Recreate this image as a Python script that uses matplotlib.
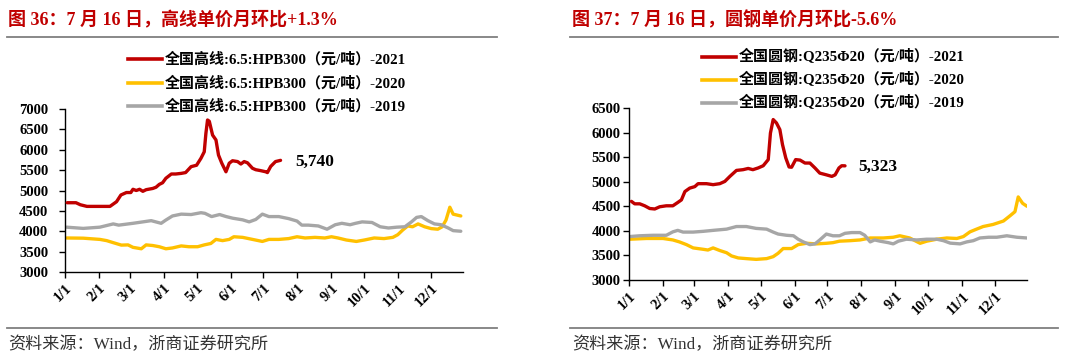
import matplotlib
matplotlib.use("Agg")
import matplotlib.pyplot as plt
from matplotlib.lines import Line2D

W, H = 1080, 359

# month starts (day of year) and labels
month_days = [0, 31, 59, 90, 120, 151, 181, 212, 243, 273, 304, 334]
month_labels = ["1/1", "2/1", "3/1", "4/1", "5/1", "6/1", "7/1", "8/1", "9/1", "10/1", "11/1", "12/1"]

# ---- 高线 HPB300 ----
gx_days_2021 = [2, 10, 14, 20, 30, 41, 47, 51, 56, 60, 62, 65, 68, 71, 74, 80, 83, 86, 89, 92,
                97, 101, 106, 110, 115, 120, 124, 127, 128.5, 130, 131.6, 134.6, 137.7, 140, 143,
                146.8, 149.8, 152.8, 157.4, 160.4, 163.4, 166.4, 171, 174, 178, 183, 184.6, 187.6, 192, 196.6]
gx_2021 = [4700, 4700, 4650, 4610, 4610, 4610, 4725, 4890, 4950, 4950, 5030, 5000, 5030, 4980, 5020,
           5050, 5080, 5150, 5190, 5300, 5405, 5405, 5420, 5440, 5585, 5620, 5790, 5950, 6400, 6730,
           6700, 6360, 6240, 5870, 5670, 5460, 5670, 5730, 5710, 5650, 5710, 5680, 5545, 5510, 5490,
           5460, 5440, 5590, 5710, 5740]

gx_days_2020 = [1.5, 16.6, 31.8, 38, 44, 51.4, 57.5, 62, 69.6, 74, 80, 86, 92, 98, 106, 113, 121, 127,
                133, 137.7, 143.7, 149.8, 154, 162, 171, 180, 186, 195, 204, 211.6, 219, 228, 237, 243,
                249, 256.6, 265.7, 273, 282, 291, 299, 303.5, 308, 312.6, 317, 322, 328, 334, 340, 344,
                347.5, 351, 354, 361]
gx_2020 = [3835, 3830, 3800, 3770, 3720, 3660, 3665, 3605, 3570, 3665, 3650, 3620, 3570, 3590, 3640,
           3620, 3620, 3665, 3700, 3800, 3770, 3800, 3865, 3850, 3800, 3750, 3800, 3800, 3820, 3865,
           3835, 3850, 3835, 3865, 3835, 3785, 3750, 3785, 3835, 3820, 3850, 3915, 4030, 4130, 4110,
           4180, 4110, 4065, 4050, 4110, 4275, 4590, 4420, 4375]

gx_days_2019 = [1.5, 16.6, 31.8, 44, 49, 62, 71, 78.6, 87.7, 92, 98, 106, 115, 124, 127.6, 133.7, 141,
                147, 153, 162, 168, 174, 180, 186, 195, 204, 211.6, 216, 222, 231, 239, 246.5, 252.5,
                260, 265, 271, 280, 287.5, 295, 302.6, 310, 316, 320.7, 325, 331, 337, 343, 349.5, 354, 361]
gx_2019 = [4100, 4070, 4100, 4180, 4150, 4195, 4230, 4260, 4195, 4275, 4375, 4420, 4410, 4455, 4440,
           4360, 4410, 4360, 4320, 4280, 4230, 4290, 4420, 4360, 4360, 4310, 4250, 4150, 4150, 4130,
           4050, 4160, 4195, 4160, 4195, 4230, 4215, 4110, 4080, 4100, 4110, 4230, 4340, 4360, 4260,
           4180, 4160, 4080, 4015, 4000]

# ---- 圆钢 Q235Φ20 ----
yg_days_2021 = [2.2, 5.2, 9.8, 14.3, 18.9, 23.5, 28, 34, 40, 44.5, 47.8, 51, 55.4, 60, 63, 70.7, 76.7,
                82.8, 87.4, 92, 98, 104, 108.7, 113, 117.8, 122.4, 127, 129, 131.5, 134.5, 137.6, 140,
                143, 146, 148.3, 152, 156, 160.5, 165, 169.6, 174, 180, 185, 188, 191.5, 194, 197]
yg_2021 = [4600, 4550, 4550, 4510, 4455, 4445, 4490, 4510, 4510, 4578, 4630, 4800, 4870, 4900, 4960,
           4960, 4940, 4960, 5006, 5108, 5230, 5245, 5270, 5245, 5280, 5325, 5450, 5990, 6265, 6195,
           6060, 5755, 5483, 5300, 5295, 5450, 5440, 5380, 5380, 5280, 5175, 5140, 5108, 5140, 5280,
           5325, 5323]

yg_days_2020 = [0.6, 16, 31, 40, 46, 52.4, 58.5, 67.6, 72, 76.7, 82.8, 89, 93.5, 99.6, 107, 116, 125.5,
                131.5, 136, 140.6, 148.3, 154.3, 162, 171, 180, 186, 192, 201.5, 210.7, 220, 232, 241,
                247, 256, 265.5, 271.6, 280.7, 289.9, 299, 305, 311, 317, 323, 332, 341.5, 347.7, 352,
                355, 359, 363]
yg_2020 = [3830, 3845, 3845, 3815, 3775, 3720, 3653, 3625, 3610, 3653, 3600, 3555, 3490, 3449, 3435,
           3420, 3435, 3475, 3544, 3640, 3640, 3720, 3747, 3735, 3747, 3760, 3790, 3800, 3815, 3855,
           3855, 3870, 3900, 3855, 3747, 3790, 3830, 3855, 3845, 3884, 3980, 4035, 4088, 4130, 4200,
           4310, 4390, 4690, 4560, 4500]

yg_days_2019 = [0.6, 9.8, 22, 34, 40, 44.5, 49.3, 58.5, 67.6, 76.7, 89, 98, 107, 116, 125.5, 131.5, 136,
                143.7, 150, 154.3, 159, 165, 169.6, 174, 180, 186, 192, 197, 203, 210.7, 215, 220, 224,
                229, 236.5, 241, 245.7, 253, 262.5, 271.6, 280.7, 286.8, 293, 302, 308, 314, 320, 328,
                335.5, 344.6, 353.8, 363]
yg_2019 = [3884, 3900, 3910, 3910, 3980, 4010, 3975, 3975, 3990, 4010, 4035, 4088, 4088, 4050, 4035,
           3975, 3935, 3910, 3900, 3830, 3775, 3720, 3735, 3815, 3935, 3900, 3900, 3950, 3965, 3965,
           3910, 3775, 3815, 3790, 3760, 3735, 3790, 3830, 3815, 3830, 3830, 3800, 3750, 3735, 3775,
           3800, 3855, 3870, 3870, 3900, 3870, 3855]

gx_labels = ["全国高线:6.5:HPB300（元/吨）-2021", "全国高线:6.5:HPB300（元/吨）-2020",
             "全国高线:6.5:HPB300（元/吨）-2019"]
yg_labels = ["全国圆钢:Q235Φ20（元/吨）-2021", "全国圆钢:Q235Φ20（元/吨）-2020",
             "全国圆钢:Q235Φ20（元/吨）-2019"]

RED, YEL, GRY = "#C00000", "#FFC000", "#A6A6A6"
TITLE_RED = "#C00000"
SERIF = ["Liberation Serif", "Noto Sans CJK SC"]
MIXED = ["Liberation Serif", "Noto Sans CJK SC", "DejaVu Sans"]


def fx(px):
    return px / W


def fy(py):
    return 1 - py / H


fig = plt.figure(figsize=(W / 100, H / 100), dpi=100)
fig.patch.set_facecolor("white")


def panel(rect, series, ylim, yticks, ypad, end_label, end_xy, leg_x, leg_ys, labels,
          title, title_x, line_x0, line_x1, src_x):
    ax = fig.add_axes(rect)
    for d, v, c in series:
        ax.plot(d, v, color=c, lw=2.4, solid_capstyle="round", zorder=3 if c == RED else 2)
    ax.set_xlim(0, 363)
    ax.set_ylim(*ylim)
    ax.set_yticks(yticks)
    ax.set_xticks(month_days)
    ax.set_xticklabels(month_labels, rotation=45, ha="right", rotation_mode="anchor")
    for s in ["top", "right"]:
        ax.spines[s].set_visible(False)
    for s in ["left", "bottom"]:
        ax.spines[s].set_color("#000000")
        ax.spines[s].set_linewidth(1.0)
    ax.tick_params(axis="both", direction="out", length=4, width=1, colors="#000000")
    ax.tick_params(axis="y", pad=ypad)
    ax.tick_params(axis="x", pad=3)
    for lab in ax.get_xticklabels() + ax.get_yticklabels():
        lab.set_fontfamily(SERIF)
        lab.set_fontweight("bold")
        lab.set_fontsize(10.5)
    # end value label
    fig.text(fx(end_xy[0]), fy(end_xy[1]), end_label, fontsize=12.5, fontweight="bold",
             family=SERIF, va="center", ha="left", color="#000000")
    # legend
    for (d, v, c), lab, ly in zip(series, labels, leg_ys):
        fig.add_artist(Line2D([fx(leg_x), fx(leg_x + 34)], [fy(ly), fy(ly)],
                              transform=fig.transFigure, color=c, lw=2.6))
        fig.text(fx(leg_x + 37), fy(ly), lab, fontsize=10.8, fontweight="bold", family=MIXED,
                 va="center", ha="left", color="#000000")
    # title, rules, source
    fig.text(fx(title_x), fy(20), title, fontsize=13, fontweight="bold", family=MIXED,
             va="center", ha="left", color=TITLE_RED)
    for ry in (37, 328):
        fig.add_artist(Line2D([fx(line_x0), fx(line_x1)], [fy(ry), fy(ry)],
                              transform=fig.transFigure, color="#7F7F7F", lw=1.3))
    fig.text(fx(src_x), fy(345), "资料来源：Wind，浙商证券研究所", fontsize=12.3, family=MIXED,
             va="center", ha="left", color="#333333")
    return ax


panel([fx(65), fy(272), fx(463) - fx(65), fy(109) - fy(272)],
      [(gx_days_2021, gx_2021, RED), (gx_days_2020, gx_2020, YEL), (gx_days_2019, gx_2019, GRY)],
      (3000, 7000), range(3000, 7001, 500), 8, "5,740", (295, 162), 128, (59, 83, 106), gx_labels,
      "图 36：7 月 16 日，高线单价月环比+1.3%", 8, 7, 497, 8)

panel([fx(629), fy(280), fx(1027) - fx(629), fy(108) - fy(280)],
      [(yg_days_2021, yg_2021, RED), (yg_days_2020, yg_2020, YEL), (yg_days_2019, yg_2019, GRY)],
      (3000, 6500), range(3000, 6501, 500), 2, "5,323", (858, 167), 702, (57, 80, 103), yg_labels,
      "图 37：7 月 16 日，圆钢单价月环比-5.6%", 572, 570, 1058, 572)

fig.savefig("out.png", dpi=100, facecolor="white")
